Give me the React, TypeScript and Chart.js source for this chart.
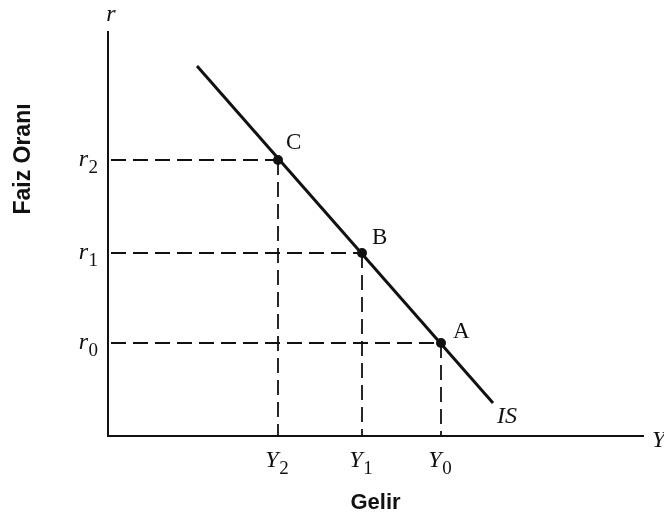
import React, { useEffect, useRef } from "react";
import { Chart, registerables } from "chart.js";

Chart.register(...registerables);

// ---- data (abstract units on the income / interest-rate axes) ----
const pointNames = ["C", "B", "A"];
const incomeValues = [170, 254, 333]; // Y2, Y1, Y0
const rateValues = [276, 183, 93]; // r2, r1, r0
const incomeTickSymbol = "Y";
const incomeTickSubscripts = ["2", "1", "0"];
const rateTickSymbol = "r";
const rateTickSubscripts = ["2", "1", "0"];
const isCurveX = [89, 385];
const isCurveY = [370, 33];
const incomeMax = 535;
const rateMax = 404;

const INK = "#111111";
const SERIF = '"Liberation Serif", "Times New Roman", serif';
const SANS = '"Liberation Sans", Arial, sans-serif';
const MAIN_FONT = `italic 24px ${SERIF}`;
const SUB_FONT = `19px ${SERIF}`;

function drawSubscripted(
  ctx: CanvasRenderingContext2D,
  main: string,
  sub: string,
  x: number,
  baseline: number,
  align: "left" | "center" | "right"
) {
  ctx.font = MAIN_FONT;
  const wm = ctx.measureText(main).width + 0.5;
  ctx.font = SUB_FONT;
  const ws = ctx.measureText(sub).width;
  const total = wm + ws;
  let start = x;
  if (align === "center") start = x - total / 2;
  if (align === "right") start = x - total;
  ctx.textAlign = "left";
  ctx.textBaseline = "alphabetic";
  ctx.font = MAIN_FONT;
  ctx.fillText(main, start, baseline);
  ctx.font = SUB_FONT;
  ctx.fillText(sub, start + wm, baseline + 7);
}

const annotatePlugin = {
  id: "annotate",
  afterDraw(chart: any) {
    const { ctx, chartArea, scales } = chart;
    const xs = scales.x;
    const ys = scales.y;
    ctx.save();
    ctx.fillStyle = INK;

    // tick labels with subscripts, placed via the scales
    xs.ticks.forEach((t: any) => {
      const i = incomeValues.indexOf(t.value);
      if (i < 0) return;
      drawSubscripted(
        ctx,
        incomeTickSymbol,
        incomeTickSubscripts[i],
        xs.getPixelForValue(t.value) - 1,
        chartArea.bottom + 31,
        "center"
      );
    });
    ys.ticks.forEach((t: any) => {
      const i = rateValues.indexOf(t.value);
      if (i < 0) return;
      drawSubscripted(
        ctx,
        rateTickSymbol,
        rateTickSubscripts[i],
        chartArea.left - 10,
        ys.getPixelForValue(t.value) + 6,
        "right"
      );
    });

    ctx.textBaseline = "alphabetic";
    ctx.textAlign = "left";
    ctx.font = `23px ${SERIF}`;
    const offsets = [
      [8, -11],
      [10, -9],
      [12, -5],
    ];
    pointNames.forEach((n, i) => {
      ctx.fillText(
        n,
        xs.getPixelForValue(incomeValues[i]) + offsets[i][0],
        ys.getPixelForValue(rateValues[i]) + offsets[i][1]
      );
    });
    ctx.font = `italic 24px ${SERIF}`;
    ctx.fillText(
      "IS",
      xs.getPixelForValue(isCurveX[1]) + 4,
      ys.getPixelForValue(isCurveY[1]) + 20
    );
    ctx.textAlign = "center";
    ctx.fillText("r", chartArea.left + 3, chartArea.top - 11);
    ctx.textAlign = "left";
    ctx.fillText("Y", chartArea.right + 9, chartArea.bottom + 11);

    ctx.font = `bold 23px ${SANS}`;
    ctx.translate(24, chartArea.top + 127);
    ctx.rotate(-Math.PI / 2);
    ctx.textAlign = "center";
    ctx.textBaseline = "middle";
    ctx.fillText("Faiz Oranı", 0, 0);
    ctx.restore();
  },
};

export default function App() {
  const canvasRef = useRef<HTMLCanvasElement | null>(null);

  useEffect(() => {
    if (!canvasRef.current) return;

    const dashed = {
      showLine: true,
      borderColor: INK,
      borderWidth: 1.8,
      borderDash: [15, 7],
      pointRadius: 0,
      fill: false,
    };
    const guides: any[] = [];
    incomeValues.forEach((yv, i) => {
      guides.push({
        ...dashed,
        borderDashOffset: -3,
        data: [
          { x: 0, y: rateValues[i] },
          { x: yv, y: rateValues[i] },
        ],
      });
      guides.push({
        ...dashed,
        data: [
          { x: yv, y: rateValues[i] },
          { x: yv, y: 0 },
        ],
      });
    });

    const chart = new Chart(canvasRef.current, {
      type: "scatter",
      data: {
        datasets: [
          ...guides,
          {
            data: isCurveX.map((x, i) => ({ x, y: isCurveY[i] })),
            showLine: true,
            borderColor: INK,
            borderWidth: 3,
            pointRadius: 0,
            fill: false,
          },
          {
            data: incomeValues.map((x, i) => ({ x, y: rateValues[i] })),
            showLine: false,
            backgroundColor: INK,
            borderColor: INK,
            pointRadius: 5,
            pointBorderWidth: 0,
          },
        ],
      },
      options: {
        responsive: false,
        animation: false,
        devicePixelRatio: 1,
        layout: { padding: { top: 32, right: 21, bottom: 0, left: 0 } },
        plugins: {
          legend: { display: false },
          tooltip: { enabled: false },
        },
        scales: {
          x: {
            type: "linear",
            min: 0,
            max: incomeMax,
            grid: { display: false, drawTicks: false },
            border: { display: true, color: INK, width: 2 },
            afterBuildTicks: (scale: any) => {
              scale.ticks = incomeValues.map((v) => ({ value: v }));
            },
            afterFit: (scale: any) => {
              scale.height = 84;
            },
            ticks: { display: false },
            title: {
              display: true,
              text: "Gelir",
              color: INK,
              font: { family: SANS, size: 22, weight: "bold" },
              padding: { top: 0, bottom: 4 },
            },
          },
          y: {
            type: "linear",
            min: 0,
            max: rateMax,
            grid: { display: false, drawTicks: false },
            border: { display: true, color: INK, width: 2 },
            afterBuildTicks: (scale: any) => {
              scale.ticks = rateValues.map((v) => ({ value: v }));
            },
            afterFit: (scale: any) => {
              scale.width = 108;
            },
            ticks: { display: false },
            title: { display: false },
          },
        },
      },
      plugins: [annotatePlugin],
    } as any);

    return () => chart.destroy();
  }, []);

  return (
    <div
      style={{
        position: "fixed",
        left: 0,
        top: 0,
        width: 664,
        height: 520,
        background: "#ffffff",
      }}
    >
      <canvas ref={canvasRef} width={664} height={520} />
    </div>
  );
}
